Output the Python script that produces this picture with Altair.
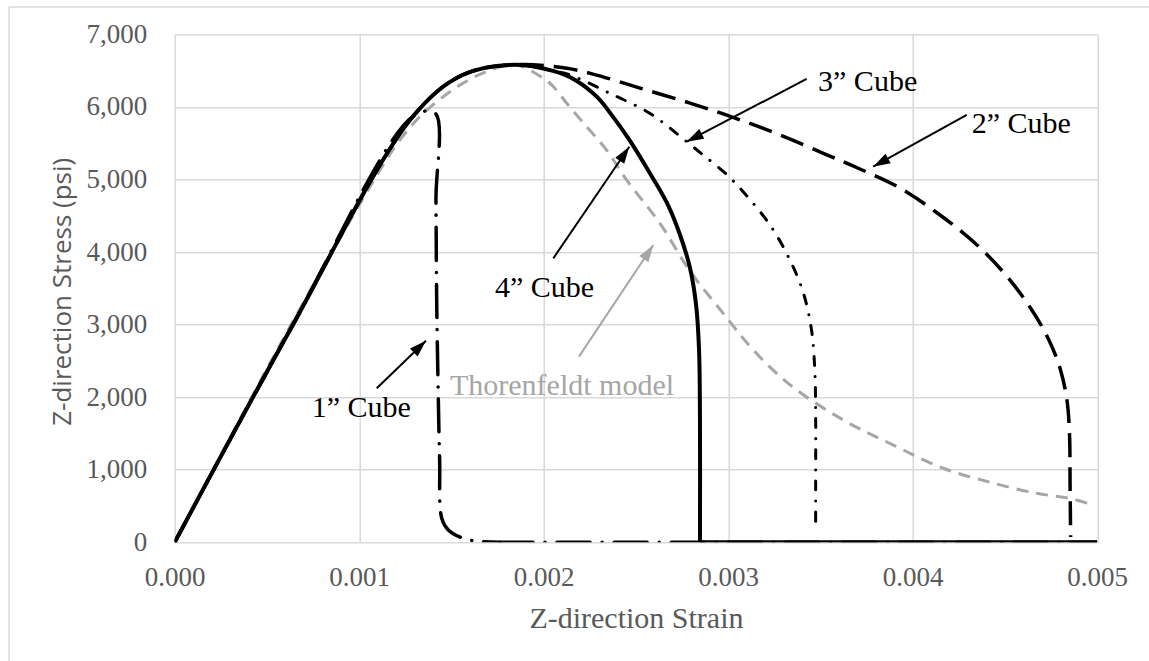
import math
import altair as alt
import pandas as pd

X_MAX = 0.005
Y_MAX = 7000
PLOT_W = 922.5
PLOT_H = 508.0

# common rising branch (strain, stress in psi)
rise_strain = [0.0, 0.000625, 0.00129, 0.00156, 0.001845]
rise_stress = [0, 2925, 5865, 6440, 6580]

# 4" cube, softening branch
cube4_strain = [0.00205, 0.00217, 0.002289, 0.002376, 0.002468, 0.002565, 0.002668,
                0.002739, 0.002793, 0.002826, 0.002842, 0.002847, 0.002847]
cube4_stress = [6495, 6371, 6137, 5862, 5531, 5130, 4676, 4235, 3780, 3270, 2650,
                1685, 0]

# 3" cube
cube3_strain = [0.00205, 0.002143, 0.00236, 0.002576, 0.002775, 0.002865, 0.002995,
                0.003109, 0.003227, 0.003326, 0.003407, 0.003453, 0.00347, 0.003474,
                0.003474, 0.003474]
cube3_stress = [6495, 6440, 6185, 5910, 5520, 5335, 5060, 4750, 4370, 3935, 3440,
                2900, 2330, 1730, 810, 190]

# 2" cube
cube2_strain = [0.002125, 0.002267, 0.002522, 0.002793, 0.003037, 0.003281, 0.003525,
                0.003714, 0.003931, 0.004148, 0.004337, 0.0045, 0.004635, 0.004733,
                0.004798, 0.004836, 0.00485, 0.004853, 0.004856]
cube2_stress = [6532, 6452, 6259, 6052, 5846, 5612, 5350, 5144, 4883, 4510, 4124,
                3697, 3243, 2815, 2402, 1961, 1479, 790, 73]

# 1" cube
cube1_strain = [0.001411, 0.001416, 0.00142, 0.001429, 0.001436, 0.001447, 0.001483,
                0.001564, 0.001655, 0.001763]
cube1_stress = [5916, 4714, 3336, 1958, 1131, 334, 170, 55, 11, 0]

# Thorenfeldt model
thor_strain = [0.0, 0.00062, 0.001113, 0.001221, 0.001347, 0.001546, 0.001709, 0.001844,
               0.001998, 0.002052, 0.002125, 0.002233, 0.002341, 0.00245, 0.00263,
               0.002792, 0.002973, 0.003136, 0.003335, 0.003624, 0.003895, 0.004166,
               0.004437, 0.004672, 0.004853, 0.004952]
thor_stress = [0, 2950, 5130, 5545, 5910, 6300, 6505, 6580, 6395, 6280, 6050, 5725,
               5405, 4990, 4395, 3740, 3155, 2650, 2170, 1685, 1340, 1020, 815, 675,
               605, 535]

# annotation labels and arrows
label_text = ["3\u201d Cube", "2\u201d Cube", "4\u201d Cube", "1\u201d Cube", "Thorenfeldt model"]
label_strain = [0.003487, 0.00432, 0.001736, 0.0007425, 0.001492]
label_stress = [6219, 5644, 3384, 1731, 2030]
label_color = ["#000000", "#000000", "#000000", "#000000", "#a6a6a6"]

arrow_from_strain = [0.003425, 0.004293, 0.002052, 0.001095, 0.002191]
arrow_from_stress = [6385, 5888, 3913, 2122, 2558]
arrow_to_strain = [0.002775, 0.003786, 0.002464, 0.001362, 0.002594]
arrow_to_stress = [5520, 5176, 5451, 2778, 4097]
arrow_color = ["#000000", "#000000", "#000000", "#000000", "#a6a6a6"]


def rows(series, part, xs, ys):
    return [{"series": series, "part": part, "i": i, "strain": x, "stress": y}
            for i, (x, y) in enumerate(zip(xs, ys))]


records = []
records += rows("thor", "curve", thor_strain, thor_stress)
records += rows("c4", "curve", rise_strain + cube4_strain, rise_stress + cube4_stress)
records += rows("c4", "base", [cube4_strain[-1], X_MAX], [0, 0])
records += rows("c3", "curve", rise_strain + cube3_strain, rise_stress + cube3_stress)
records += rows("c2", "curve", rise_strain + cube2_strain, rise_stress + cube2_stress)
records += rows("c1", "curve", rise_strain[:3] + cube1_strain, rise_stress[:3] + cube1_stress)
records += rows("c1", "base", [cube1_strain[-1], X_MAX], [0, 0])
curves = pd.DataFrame(records)

labels = pd.DataFrame({"label": label_text, "strain": label_strain,
                       "stress": label_stress, "color": label_color})

sx = PLOT_W / X_MAX
sy = PLOT_H / Y_MAX
angles = []
for fx, fy, tx, ty in zip(arrow_from_strain, arrow_from_stress, arrow_to_strain, arrow_to_stress):
    dx = (tx - fx) * sx
    dy = -(ty - fy) * sy
    angles.append(math.degrees(math.atan2(dx, -dy)) % 360)
arrows = pd.DataFrame({"ax": arrow_from_strain, "ay": arrow_from_stress,
                       "bx": arrow_to_strain, "by": arrow_to_stress,
                       "color": arrow_color, "ang": angles})

GRID = "#d9d9d9"
TXT = "#595959"

x_scale = alt.Scale(domain=[0, X_MAX], nice=False, zero=False)
y_scale = alt.Scale(domain=[0, Y_MAX], nice=False)

x_axis = alt.Axis(
    values=[0, 0.001, 0.002, 0.003, 0.004, 0.005], format=".3f",
    title="Z-direction Strain", grid=True, gridColor=GRID, gridWidth=1.5,
    ticks=False, domain=False, labelFont="Liberation Serif", labelFontSize=27,
    labelColor=TXT, labelPadding=22, labelFlush=False, labelOverlap=False,
    titleFont="Liberation Serif", titleFontSize=30, titleColor=TXT,
    titleFontWeight="normal", titleX=PLOT_W / 2, titleY=85,
    titleAlign="center", titleBaseline="alphabetic",
)
y_axis = alt.Axis(
    values=[0, 1000, 2000, 3000, 4000, 5000, 6000, 7000], format=",d",
    title="Z-direction Stress (psi)", grid=True, gridColor=GRID, gridWidth=1.5,
    ticks=False, domain=False, labelFont="Liberation Serif", labelFontSize=27,
    labelColor=TXT, labelPadding=28, labelFlush=False, labelOverlap=False,
    titleFont="Open Sans", titleFontSize=26, titleColor=TXT,
    titleFontWeight="normal", titleAngle=270, titleX=-104.7, titleY=257,
    titleAlign="center", titleBaseline="alphabetic",
)


def X(field):
    return alt.X(field, type="quantitative", scale=x_scale, axis=x_axis)


def Y(field):
    return alt.Y(field, type="quantitative", scale=y_scale, axis=y_axis)


def curve(series, color, width, dash=None, cap="butt"):
    kw = dict(color=color, strokeWidth=width, strokeCap=cap,
              interpolate="catmull-rom", clip=True)
    if dash:
        kw["strokeDash"] = dash
    return (
        alt.Chart(curves)
        .transform_filter(alt.datum.series == series)
        .mark_line(**kw)
        .encode(x=X("strain"), y=Y("stress"), order="i:Q", detail="part:N")
    )


frame_df = pd.DataFrame({"k": [0]})
frame_left = alt.Chart(frame_df).mark_rule(color=GRID, strokeWidth=1.5).encode(
    x=alt.value(-165.7), y=alt.value(-27.3), y2=alt.value(700))
frame_top = alt.Chart(frame_df).mark_rule(color=GRID, strokeWidth=1.5).encode(
    x=alt.value(-165.7), x2=alt.value(1100), y=alt.value(-27.3))

thor = curve("thor", "#a6a6a6", 3, [12, 8])
c4 = curve("c4", "#000000", 4)
c3 = curve("c3", "#000000", 3, [9, 11, 0.1, 11], "round")
c2 = curve("c2", "#000000", 3.5, [24, 10])
c1 = curve("c1", "#000000", 3.5, [33, 12, 0.1, 12], "round")

shafts = alt.Chart(arrows).mark_rule(strokeWidth=2).encode(
    x=X("ax"), y=Y("ay"), x2="bx:Q", y2="by:Q",
    color=alt.Color("color:N", scale=None))
heads = alt.Chart(arrows).mark_point(
    filled=True, opacity=1, shape="M0,0L-0.32,1L0.32,1Z", size=1156, strokeWidth=0
).encode(x=X("bx"), y=Y("by"), angle=alt.Angle("ang:Q", scale=None),
         color=alt.Color("color:N", scale=None))

texts = alt.Chart(labels).mark_text(
    font="Liberation Serif", fontSize=30, align="left", baseline="alphabetic"
).encode(x=X("strain"), y=Y("stress"), text="label:N",
         color=alt.Color("color:N", scale=None))

chart = (
    alt.layer(frame_left, frame_top, thor, c1, c2, c3, c4, shafts, heads, texts)
    .properties(
        width=PLOT_W, height=PLOT_H,
        autosize=alt.AutoSizeParams(type="none"),
        padding={"left": 174.7, "top": 34.3, "right": 51.8, "bottom": 118.2},
        background="#ffffff",
    )
    .configure_view(stroke=None)
)

chart.save("out.html", embed_options={"renderer": "svg", "actions": False})
